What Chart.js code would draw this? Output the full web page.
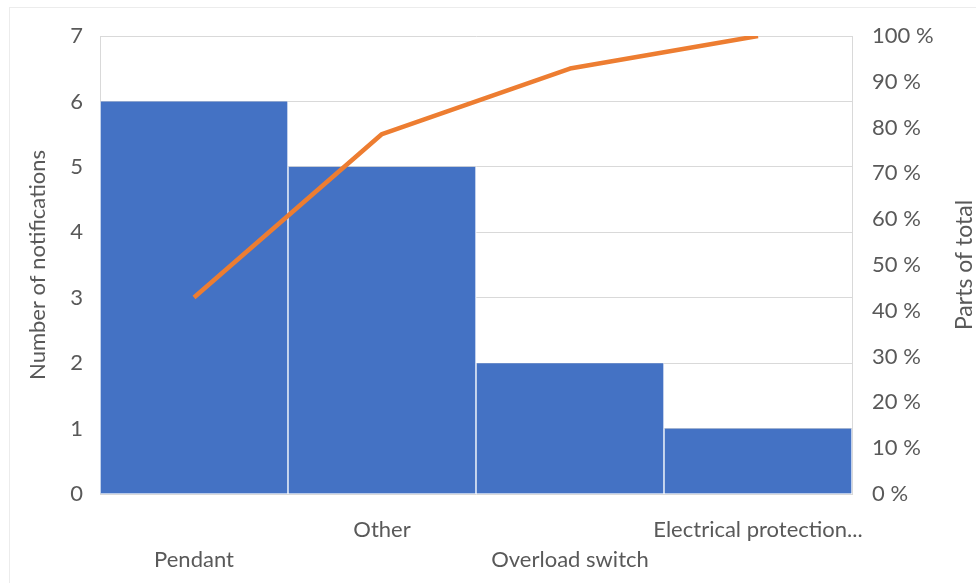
<!DOCTYPE html>
<html>
<head>
<meta charset="utf-8">
<script src="https://cdn.jsdelivr.net/npm/chart.js@4.4.0/dist/chart.umd.min.js"></script>
<style>
  html, body { margin: 0; padding: 0; background: #fff; }
  .wrap { position: relative; width: 976px; height: 583px; overflow: hidden; }
  .frame { position: absolute; left: 9px; top: 7px; width: 990px; height: 600px; border: 1px solid #ececec; }
  canvas { position: absolute; left: 0; top: 0; }
</style>
</head>
<body>
<div class="wrap">
  <div class="frame"></div>
  <canvas id="paretoChart" width="976" height="583"></canvas>
</div>
<script>
const categories = ['Pendant', 'Other', 'Overload switch', 'Electrical protection...'];
const notificationCounts = [6, 5, 2, 1];
const cumulativeShare = [42.9, 78.6, 92.9, 100];
const countAxisMax = 7;
const shareAxisMax = 100;

const textColor = '#595959';
const gridColor = '#d9d9d9';
const fontFamily = 'Lato, Carlito, "Open Sans", sans-serif';

// secondary axis title reads bottom-to-top like the primary one
const rightTitlePlugin = {
    id: 'rightTitle',
    afterDraw(chart) {
        const ctx = chart.ctx;
        const area = chart.chartArea;
        ctx.save();
        ctx.translate(chart.scales.y1.right - 11, (area.top + area.bottom) / 2);
        ctx.rotate(-Math.PI / 2);
        ctx.font = '23px ' + fontFamily;
        ctx.fillStyle = textColor;
        ctx.textAlign = 'center';
        ctx.textBaseline = 'middle';
        ctx.fillText('Parts of total', 0, 0);
        ctx.restore();
    }
};

const ctx = document.getElementById('paretoChart').getContext('2d');
new Chart(ctx, {
    type: 'bar',
    data: {
        labels: categories,
        datasets: [
            {
                type: 'line',
                label: 'Parts of total',
                data: cumulativeShare,
                yAxisID: 'y1',
                borderColor: '#ED7D31',
                backgroundColor: '#ED7D31',
                borderWidth: 4.5,
                pointRadius: 0,
                tension: 0,
                borderJoinStyle: 'round',
                order: 0
            },
            {
                label: 'Number of notifications',
                data: notificationCounts,
                yAxisID: 'y',
                backgroundColor: '#4472C4',
                borderColor: '#ffffff',
                borderWidth: { left: 1, right: 1, top: 0, bottom: 0 },
                borderSkipped: false,
                barPercentage: 1,
                categoryPercentage: 1,
                order: 1
            }
        ]
    },
    options: {
        responsive: false,
        animation: false,
        layout: { padding: { top: 36, left: 0, right: 0, bottom: 0 } },
        plugins: {
            legend: { display: false },
            tooltip: { enabled: false }
        },
        scales: {
            x: {
                grid: { display: false, drawTicks: false },
                border: { display: false },
                ticks: {
                    color: textColor,
                    font: { family: fontFamily, size: 22, lineHeight: 1.36 },
                    padding: 21,
                    autoSkip: false,
                    maxRotation: 0,
                    minRotation: 0,
                    callback: function(value, index) {
                        const label = this.getLabelForValue(value);
                        return index % 2 === 0 ? ['', label] : label;
                    }
                },
                afterFit: function(scale) { scale.height = 89; }
            },
            y: {
                position: 'left',
                min: 0,
                max: countAxisMax,
                grid: { color: gridColor, drawTicks: false },
                border: { display: true, color: gridColor },
                ticks: {
                    stepSize: 1,
                    color: textColor,
                    font: { family: fontFamily, size: 22 },
                    padding: 17
                },
                title: {
                    display: true,
                    text: 'Number of notifications',
                    color: textColor,
                    font: { family: fontFamily, size: 22 },
                    padding: { top: 25, bottom: 0 }
                },
                afterFit: function(scale) { scale.width = 100; }
            },
            y1: {
                position: 'right',
                min: 0,
                max: shareAxisMax,
                grid: { drawOnChartArea: false, drawTicks: false },
                border: { display: true, color: gridColor },
                ticks: {
                    stepSize: 10,
                    color: textColor,
                    font: { family: fontFamily, size: 22 },
                    padding: 20,
                    callback: function(value) { return value + ' %'; }
                },
                afterFit: function(scale) { scale.width = 124; }
            }
        }
    },
    plugins: [rightTitlePlugin]
});
</script>
</body>
</html>
